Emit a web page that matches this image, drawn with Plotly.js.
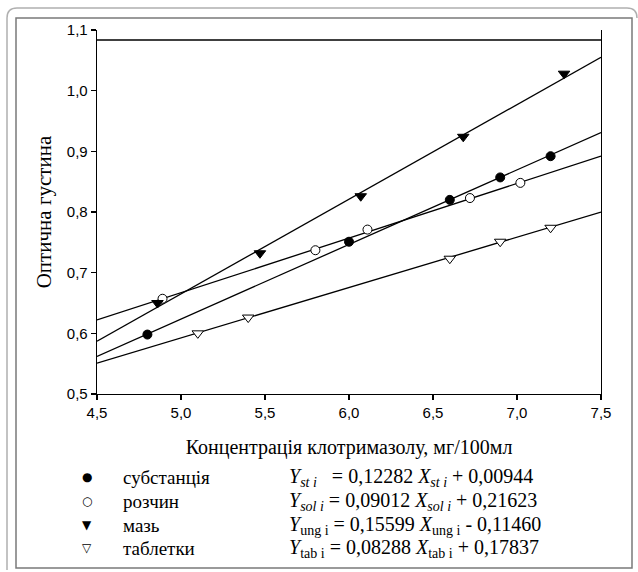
<!DOCTYPE html>
<html>
<head>
<meta charset="utf-8">
<script src="https://cdn.plot.ly/plotly-3.0.1.min.js"></script>
<style>html,body{margin:0;padding:0;background:#fff;}#chart{width:638px;height:572px;}</style>
</head>
<body>
<div id="chart"></div>
<script>
// ---- data ----
var stX  = [4.80, 6.00, 6.60, 6.90, 7.20];
var stY  = [0.598, 0.751, 0.820, 0.857, 0.892];
var solX = [4.89, 5.80, 6.11, 6.72, 7.02];
var solY = [0.657, 0.737, 0.771, 0.823, 0.848];
var ungX = [4.86, 5.47, 6.07, 6.68, 7.28];
var ungY = [0.650, 0.732, 0.826, 0.924, 1.028];
var tabX = [5.10, 5.40, 6.60, 6.90, 7.20];
var tabY = [0.600, 0.626, 0.723, 0.751, 0.774];

// regression lines (end points across the axis)
var fitX   = [4.5, 7.5];
var fitSt  = [0.562, 0.931];
var fitSol = [0.622, 0.892];
var fitUng = [0.587, 1.055];
var fitTab = [0.551, 0.800];

var legendSymbols = ['●', '○', '▼', '▽'];
var legendLabels  = ['субстанція', 'розчин', 'мазь', 'таблетки'];
var equations = [
  '<i>Y</i><sub><i>st i</i></sub>   = 0,12282 <i>X</i><sub><i>st i</i></sub> + 0,00944',
  '<i>Y</i><sub><i>sol i</i></sub> = 0,09012 <i>X</i><sub><i>sol i</i></sub> + 0,21623',
  '<i>Y</i><sub>ung i</sub> = 0,15599 <i>X</i><sub>ung i</sub> - 0,11460',
  '<i>Y</i><sub>tab i</sub> = 0,08288 <i>X</i><sub>tab i</sub> + 0,17837'
];
var xTicks = [4.5, 5.0, 5.5, 6.0, 6.5, 7.0, 7.5];
var xTickText = ['4,5', '5,0', '5,5', '6,0', '6,5', '7,0', '7,5'];
var yTicks = [0.5, 0.6, 0.7, 0.8, 0.9, 1.0, 1.1];
var yTickText = ['0,5', '0,6', '0,7', '0,8', '0,9', '1,0', '1,1'];
var topLineY = 1.0835;

// ---- layout helpers (pixel -> paper) ----
var L = 97, R = 601, T = 30, B = 394;
function px(x) { return (x - L) / (R - L); }
function py(y) { return (B - y) / (B - T); }

var SERIF = 'Liberation Serif, Times New Roman, serif';
var lineStyle = {color: '#000', width: 1.3};
var traces = [
  {x: fitX, y: fitSt,  mode: 'lines', line: lineStyle, hoverinfo: 'skip'},
  {x: fitX, y: fitSol, mode: 'lines', line: lineStyle, hoverinfo: 'skip'},
  {x: fitX, y: fitUng, mode: 'lines', line: lineStyle, hoverinfo: 'skip'},
  {x: fitX, y: fitTab, mode: 'lines', line: lineStyle, hoverinfo: 'skip'},
  {x: stX, y: stY, mode: 'markers', name: legendLabels[0],
   marker: {symbol: 'circle', size: 9, color: '#000', line: {color: '#000', width: 1}}},
  {x: solX, y: solY, mode: 'markers', name: legendLabels[1],
   marker: {symbol: 'circle', size: 9, color: '#fff', line: {color: '#000', width: 1}}},
  {x: ungX, y: ungY, mode: 'markers', name: legendLabels[2],
   marker: {symbol: 'triangle-down', size: 10, color: '#000', line: {color: '#000', width: 1}}},
  {x: tabX, y: tabY, mode: 'markers', name: legendLabels[3],
   marker: {symbol: 'triangle-down', size: 10, color: '#fff', line: {color: '#000', width: 1}}}
];

var rowsY = [477, 501, 525, 548];
var annotations = [];
for (var i = 0; i < 4; i++) {
  annotations.push({xref: 'paper', yref: 'paper', x: px(87), y: py(rowsY[i]), xanchor: 'center', yanchor: 'middle',
    text: legendSymbols[i], showarrow: false, font: {family: 'DejaVu Sans', size: 12, color: '#000'}});
  annotations.push({xref: 'paper', yref: 'paper', x: px(121), y: py(rowsY[i]), xanchor: 'left', yanchor: 'middle',
    text: legendLabels[i], showarrow: false, font: {family: SERIF, size: 19, color: '#000'}});
  annotations.push({xref: 'paper', yref: 'paper', x: px(287), y: py(rowsY[i]), xanchor: 'left', yanchor: 'middle',
    text: equations[i], showarrow: false, font: {family: SERIF, size: 20, color: '#000'}});
}

var framePath = 'M ' + px(7) + ' ' + py(570) + ' L ' + px(7) + ' ' + py(18) +
  ' Q ' + px(7) + ' ' + py(8) + ' ' + px(17) + ' ' + py(8) +
  ' L ' + px(627) + ' ' + py(8) + ' Q ' + px(637) + ' ' + py(8) + ' ' + px(637) + ' ' + py(18);

var layout = {
  width: 638, height: 572,
  margin: {l: L, r: 638 - R, t: T, b: 572 - B, pad: 0},
  paper_bgcolor: '#fff', plot_bgcolor: '#fff',
  showlegend: false,
  font: {family: 'Liberation Sans', color: '#000'},
  xaxis: {
    range: [4.5, 7.5], tickvals: xTicks, ticktext: xTickText,
    showgrid: false, zeroline: false, showline: true, linecolor: '#000', linewidth: 1.3,
    ticks: 'outside', ticklen: 5, tickwidth: 1.3, tickcolor: '#000',
    tickfont: {family: 'Liberation Sans', size: 15},
    title: {text: 'Концентрація клотримазолу, мг/100мл', font: {family: SERIF, size: 20}, standoff: 19}
  },
  yaxis: {
    range: [0.5, 1.1], tickvals: yTicks, ticktext: yTickText,
    showgrid: false, zeroline: false, showline: true, mirror: true, linecolor: '#000', linewidth: 1.3,
    ticks: 'outside', ticklen: 5, tickwidth: 1.3, tickcolor: '#000',
    tickfont: {family: 'Liberation Sans', size: 15},
    title: {text: 'Оптична густина', font: {family: SERIF, size: 21}, standoff: 9}
  },
  shapes: [
    {type: 'line', xref: 'x', yref: 'y', x0: 4.5, x1: 7.5, y0: topLineY, y1: topLineY, line: {color: '#000', width: 1.3}},
    {type: 'rect', xref: 'paper', yref: 'paper', x0: px(16), x1: px(632), y0: py(568), y1: py(18), line: {color: '#7a7a7a', width: 1.5}},
    {type: 'path', xref: 'paper', yref: 'paper', path: framePath, line: {color: '#b0b0b0', width: 1.5}}
  ],
  annotations: annotations
};

Plotly.newPlot('chart', traces, layout, {staticPlot: true, displayModeBar: false});
</script>
</body>
</html>
